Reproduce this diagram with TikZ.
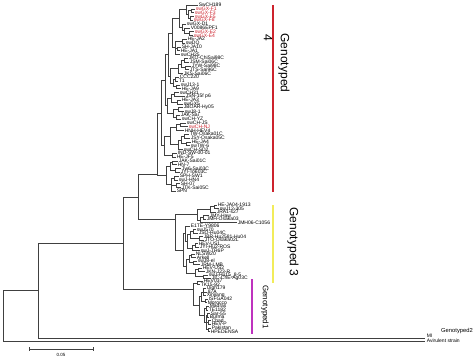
\documentclass[tikz,border=0pt]{standalone}
\usepackage{fontspec}
\setmainfont{Liberation Sans}
\usetikzlibrary{calc}
\definecolor{g4red}{RGB}{205,35,45}
\definecolor{g3yel}{RGB}{242,236,90}
\definecolor{g1mag}{RGB}{190,50,190}
\tikzset{
  br/.style={draw=black!75, line width=0.55pt},
  lab/.style={anchor=west, inner sep=0.6pt, font=\fontsize{5}{5}\selectfont},
  bigtxt/.style={rotate=-90, inner sep=0pt, font=\fontsize{12}{12}\selectfont},
}
\newcommand\lf[5]{\node[lab,text=#5] (#1) at (#2,{#3}) {#4};}
\newcommand\la[4]{\lf{a#1}{#2}{5+3.8*#1}{#3}{#4}}
\newcommand\lb[4]{\lf{b#1}{#2}{205+3.5*#1}{#3}{#4}}
\newcommand\lc[4]{\lf{c#1}{#2}{281+3.6*#1}{#3}{#4}}
\newcommand\br[2]{\foreach \ch in {#2}{\draw[br] (#1) |- (\ch);}}
\newcommand\nd[4]{\path let \p1=(#3), \p2=(#4) in coordinate (#1) at (#2pt,{0.5*\y1+0.5*\y2});\br{#1}{#3,#4}}
\begin{document}
\begin{tikzpicture}[x=1pt,y=-1pt]
\useasboundingbox (0,0) rectangle (474,359);
% ---------- genotype 4 leaves
\la{0}{198}{SwCH189}{black}
\la{1}{195}{swGX-F1}{g4red}
\la{2}{194}{swGX-F3}{g4red}
\la{3}{194}{swGX-F5}{g4red}
\la{4}{193}{swGX-F8}{g4red}
\la{5}{186}{swGX-D1}{black}
\la{6}{190}{V0086EPF1}{black}
\la{7}{194}{swGX-E2}{g4red}
\la{8}{193}{swGX-E4}{g4red}
\la{9}{187}{HE-JA2}{black}
\la{10}{185}{swDQ}{black}
\la{11}{181}{SH-JA10}{black}
\la{12}{180}{HE-JA1}{black}
\la{13}{180}{swCH25}{black}
\la{14}{188}{JKO-ChiSai98C}{black}
\la{15}{189}{JSM-Sai06C}{black}
\la{16}{191}{JYW-Sai98C}{black}
\la{17}{189}{JTS-Sai96C}{black}
\la{18}{183}{JKS-Sai06C}{black}
\la{19}{179}{CCC220}{black}
\la{20}{178}{T1}{black}
\la{21}{180}{swJ13-1}{black}
\la{22}{181}{HE-JA9}{black}
\la{23}{179}{swCH31}{black}
\la{24}{185}{JSN-15f p6}{black}
\la{25}{181}{HE-JA3}{black}
\la{26}{183}{swGX5}{black}
\la{27}{183}{JBOAR-Hy05}{black}
\la{28}{184}{swJ8-1}{black}
\la{29}{180}{JAK-Sai}{black}
\la{30}{181}{swCH-YZ}{black}
\la{31}{186}{swCH-JS}{black}
\la{32}{188}{swCH-NJ}{g4red}
\la{33}{184}{HNH-HEV4}{black}
\la{34}{189}{TW-Osaka01C}{black}
\la{35}{190}{JSY-Osaka05C}{black}
\la{36}{191}{HE-JA4}{black}
\la{37}{190}{swTW-6}{black}
\la{38}{183}{swCH-SD2}{black}
\la{39}{177}{IND-SW-00-01}{black}
\la{40}{176}{HE-JF5}{black}
\la{41}{178}{JAK-Sai01C}{black}
\la{42}{177}{HN-7}{black}
\la{43}{181}{Tw6-Sai03C}{black}
\la{44}{180}{JYI-To603C}{black}
\la{45}{179}{SPH-SW1}{black}
\la{46}{178}{swJ-HN4}{black}
\la{47}{180}{SH-07}{black}
\la{48}{181}{JTK-Sai05C}{black}
\la{49}{176}{SPN}{black}
% ---------- genotype 4 inner nodes
\nd{p12}{191}{a1}{a2}
\nd{p34}{190}{a3}{a4}
\nd{p1234}{188}{p12}{p34}
\nd{pA0}{186}{a0}{p1234}
\nd{p78}{189}{a7}{a8}
\nd{p678}{184}{a6}{p78}
\nd{p5678}{182}{a5}{p678}
\nd{pA}{179}{pA0}{p5678}
\nd{p910}{182}{a9}{a10}
\nd{p1112}{177}{a11}{a12}
\nd{pB}{175}{p910}{a13}\br{pB}{p1112}
\nd{pAB}{172}{pA}{pB}
\nd{p1415}{184}{a14}{a15}
\nd{p1617}{185}{a16}{a17}
\nd{pC1}{181}{p1415}{p1617}
\nd{pC2}{178}{pC1}{a18}
\nd{p1920}{175}{a19}{a20}
\nd{p2122}{176}{a21}{a22}
\nd{pC3}{173}{p1920}{p2122}
\nd{pC}{170}{pC2}{pC3}
\nd{pABC}{168}{pAB}{pC}
\nd{p2324}{174}{a23}{a24}
\nd{p2526}{177}{a25}{a26}
\nd{pD1}{171}{p2324}{p2526}
\nd{p2728}{178}{a27}{a28}
\nd{p2930}{176}{a29}{a30}
\nd{pD2}{173}{p2728}{p2930}
\nd{pD}{167}{pD1}{pD2}
\nd{pABCD}{165}{pABC}{pD}
\nd{p3132}{180}{a31}{a32}
\nd{pE1}{176}{p3132}{a33}
\nd{p3435}{184}{a34}{a35}
\nd{p3637}{186}{a36}{a37}
\nd{pE2}{181}{p3435}{p3637}
\nd{pE3}{178}{pE2}{a38}
\nd{pE}{170}{pE1}{pE3}
\nd{p3940}{172}{a39}{a40}
\nd{pE4}{164}{pE}{p3940}
\nd{pTop}{161}{pABCD}{pE4}
\nd{p4142}{172}{a41}{a42}
\nd{p4344}{175}{a43}{a44}
\nd{pF1}{170}{p4142}{p4344}
\nd{p4546}{174}{a45}{a46}
\nd{p4748}{176}{a47}{a48}
\nd{pF2}{171}{p4546}{a49}\br{pF2}{p4748}
\nd{pF}{166}{pF1}{pF2}
\coordinate (G4root) at (157,174);
\br{G4root}{pTop,pF}
% ---------- genotype 3 leaves
\lb{0}{217}{HE-JA04-1913}{black}
\lb{1}{219}{swJ12-305}{black}
\lb{2}{216}{JRA1-s27}{black}
\lb{3}{209}{JMY-Haw}{black}
\lb{4}{206}{JMH-Osaka03}{black}
\lb{5}{237}{JMH06-C1056}{black}
\lb{6}{190}{E1TE-Y9806}{black}
\lb{7}{196}{swJ570}{black}
\lb{8}{198}{JSO-Hu04C}{black}
\lb{9}{203}{JBR-Hu2581-Hu04}{black}
\lb{10}{204}{JTO-Osaka02L}{black}
\lb{11}{198}{HEV-US1}{black}
\lb{12}{199}{JYI-Hu2-ROS}{black}
\lb{13}{200}{swJ-TR6P}{black}
\lb{14}{195}{NLSW20}{black}
\lb{15}{196}{Arkell}{black}
\lb{16}{197}{swJ8-el}{black}
\lb{17}{200}{JRM-LMB}{black}
\lb{18}{202}{HEV-US2}{black}
\lb{19}{205}{JKN-J23-R}{black}
\lb{20}{208}{swJ-Hu15\_8-5}{black}
\lb{21}{211}{JIC-ChE-Ag03C}{black}
% ---------- genotype 3 inner nodes
\nd{q01}{214}{b0}{b1}
\nd{q012}{210}{q01}{b2}
\nd{q34}{203}{b3}{b4}
\nd{q345}{200}{q34}{b5}
\nd{qA}{197}{q012}{q345}
\nd{q78}{193}{b7}{b8}
\nd{q910}{199}{b9}{b10}
\nd{qB1}{190}{q78}{q910}
\nd{q1112}{195}{b11}{b12}
\nd{qB2}{192}{q1112}{b13}
\nd{qB3}{187}{qB1}{qB2}
\nd{qB0}{185}{b6}{qB3}
\nd{q1415}{191}{b14}{b15}
\nd{q1617}{193}{b16}{b17}
\nd{qB4}{189}{q1415}{q1617}
\nd{q1819}{198}{b18}{b19}
\nd{q2021}{203}{b20}{b21}
\nd{qB5}{195}{q1819}{q2021}
\nd{qB6}{186}{qB4}{qB5}
\nd{qB}{183}{qB0}{qB6}
\coordinate (G3root) at (175,219);
\br{G3root}{qA,qB}
% ---------- genotype 1 leaves
\lc{0}{203}{HEV037}{black}
\lc{1}{200}{TK15-92}{black}
\lc{2}{206}{Uigh179}{black}
\lc{3}{207}{87A}{black}
\lc{4}{206}{Xinjiang}{black}
\lc{5}{208}{ISFGA042}{black}
\lc{6}{207}{Morocco}{black}
\lc{7}{209}{Madras}{black}
\lc{8}{208}{TE1182}{black}
\lc{9}{210}{Sar-55}{black}
\lc{10}{209}{Burma}{black}
\lc{11}{211}{Chad}{black}
\lc{12}{211}{HEV-P}{black}
\lc{13}{211}{Pakistan}{black}
\lc{14}{210}{HPEDENSA}{black}
% ---------- genotype 1 inner nodes
\nd{r01}{197}{c0}{c1}
\nd{r234}{203}{c2}{c4}\br{r234}{c3}
\nd{r56}{205}{c5}{c6}
\nd{r26}{201}{r234}{r56}
\nd{r78}{206}{c7}{c8}
\nd{r910}{207}{c9}{c10}
\nd{r1112}{208}{c11}{c12}
\nd{r1314}{208}{c13}{c14}
\nd{r9b}{206}{r910}{r1314}\br{r9b}{r1112}
\nd{r714}{204}{r78}{r9b}
\nd{rB}{199}{r26}{r714}
\coordinate (G1root) at (193,289);
\br{G1root}{r01,rB}
% ---------- deep nodes
\coordinate (n138) at (138,197);
\br{n138}{G4root,G3root}
\coordinate (n123) at (123,243);
\br{n123}{n138,G1root}
\coordinate (Mtip) at (425,338);
\coordinate (Atip) at (425,341);
\coordinate (n38) at (38,290);
\br{n38}{n123,Mtip}
\coordinate (root) at (3,315.5);
\br{root}{n38,Atip}
\node[lab,anchor=south west] (mlab) at (426,338.6) {MI};
\node[lab] (alab) at (426,341) {Avirulent strain};
% ---------- clade bars and annotations
\draw[line width=1.5pt, g4red] (273,5) -- (273,192);
\draw[line width=2pt, g3yel] (273,205) -- (273,283);
\draw[line width=1.5pt, g1mag] (252,279) -- (252,334);
\node[bigtxt] (t4) at (284,63) {Genotyped};
\node[bigtxt] (n4) at (268,38) {4};
\node[bigtxt] (t3) at (293,242) {Genotyped 3};
\node[rotate=-90, inner sep=0pt, font=\fontsize{8}{8}\selectfont] (t1) at (265,307) {Genotyped1};
\node[anchor=west, inner sep=0pt, font=\fontsize{5.8}{6}\selectfont] (t2) at (441,331) {Genotyped2};
% ---------- scale bar
\coordinate (s1) at (29,349);
\coordinate (s2) at (93,349);
\draw[br] (s1) -- (s2);
\draw[br] ($(s1)+(0,-1.7)$) -- ($(s1)+(0,1.7)$);
\draw[br] ($(s2)+(0,-1.7)$) -- ($(s2)+(0,1.7)$);
\node[inner sep=0pt, font=\fontsize{4.5}{5}\selectfont] (sl) at (61,354.5) {0.05};
\end{tikzpicture}
\end{document}
